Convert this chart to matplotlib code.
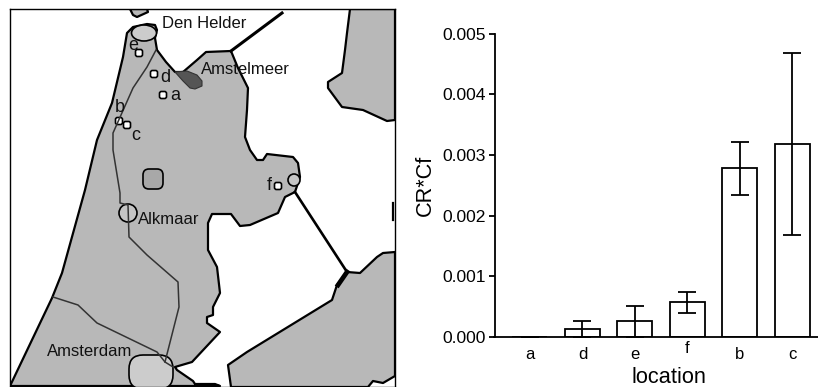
import matplotlib
matplotlib.use('Agg')
import matplotlib.pyplot as plt
from matplotlib.patches import Circle, Ellipse, FancyBboxPatch, Polygon

plt.rcParams['font.family'] = ['Liberation Sans', 'DejaVu Sans']

# bar chart values
locations = ['a', 'd', 'e', 'f', 'b', 'c']
cr_cf = [0.0, 0.00013, 0.000258, 0.00057, 0.00278, 0.00318]
err_low = [0.0, 0.00013, 0.000258, 0.000175, 0.00044, 0.0015]
err_high = [0.0, 0.00013, 0.000258, 0.000165, 0.00044, 0.0015]
y_ticks = [0.0, 0.001, 0.002, 0.003, 0.004, 0.005]

# map outlines, traced in picture pixels
mainland = [(127, 33), (133, 27), (147, 24), (155, 25), (157, 30), (155, 38), (157, 50),
            (166, 62), (175, 72), (183, 72), (197, 60), (206, 52), (231, 51), (238, 68),
            (248, 88), (247, 110), (245, 137), (250, 150), (257, 160), (263, 160),
            (267, 154), (293, 157), (298, 163), (300, 177), (295, 192), (285, 197),
            (278, 213), (250, 225), (240, 226), (231, 214), (212, 214), (208, 223),
            (208, 250), (217, 267), (220, 293), (213, 307), (213, 315), (207, 317),
            (207, 323), (220, 332), (192, 362), (175, 367), (177, 370), (193, 381),
            (195, 384), (215, 384), (220, 386), (10, 386), (52, 298), (62, 273),
            (85, 190), (97, 140), (112, 103), (123, 57)]
east_land = [(231, 387), (228, 365), (247, 352), (332, 300), (337, 285), (347, 272),
             (360, 273), (377, 257), (383, 253), (395, 252), (395, 376), (383, 383),
             (373, 381), (368, 387)]
north_east = [(350, 9), (347, 33), (345, 50), (342, 73), (328, 82), (328, 88), (342, 107),
              (363, 110), (387, 121), (395, 120), (395, 9)]
island = [(130, 9), (133, 15), (137, 17), (148, 12), (147, 9)]
amstelmeer = [(175, 72), (187, 71), (197, 75), (202, 81), (202, 86), (195, 89), (190, 88), (183, 81)]
road_north = [(156, 50), (147, 67), (133, 88), (113, 133), (113, 150), (120, 193),
              (120, 203), (128, 205), (129, 237), (147, 255), (178, 282), (179, 307),
              (165, 362)]
road_west = [(53, 297), (78, 305), (97, 323), (157, 352), (165, 362), (173, 367)]
dike_north = [(231, 51), (282, 13)]
dike_east = [(295, 192), (347, 272)]
dike_thick = [(347, 272), (338, 285)]
east_dash = [(393.3, 203), (393.3, 220)]
sites = [(139, 53), (154, 74), (163, 95), (119, 121), (127, 125), (278, 186)]
map_names = [('Den Helder', 162, 23), ('Amstelmeer', 201, 70), ('Alkmaar', 138, 220),
             ('Amsterdam', 47, 352)]
site_names = [('e', 128, 45), ('d', 160, 77), ('a', 170, 95), ('b', 115, 108), ('c', 131, 135),
              ('f', 267, 186)]

fig = plt.figure(figsize=(8.18, 3.87), dpi=100)

# map
ax1 = fig.add_axes([9.5 / 818, 1 - 386.5 / 387, 385.5 / 818, 377.5 / 387])
ax1.set_xlim(9.5, 395)
ax1.set_ylim(386.5, 9)
ax1.set_xticks([])
ax1.set_yticks([])
for spine in ax1.spines.values():
    spine.set_linewidth(1.0)

for shape in [mainland, east_land, north_east, island]:
    ax1.add_patch(Polygon(shape, closed=True, facecolor='#b8b8b8', edgecolor='black',
                          linewidth=1.6, joinstyle='round'))
ax1.add_patch(Polygon(amstelmeer, closed=True, facecolor='#555555', edgecolor='#333333', linewidth=0.8))

ax1.add_patch(Ellipse((144, 33), 25, 16, facecolor='#cccccc', edgecolor='black', linewidth=1.2))
ax1.add_patch(Ellipse((128, 213), 18, 18, facecolor='#c4c4c4', edgecolor='black', linewidth=1.2))
ax1.add_patch(FancyBboxPatch((140, 366), 22, 12, boxstyle='round,pad=11,rounding_size=14',
                             facecolor='#cccccc', edgecolor='black', linewidth=1.2))
ax1.add_patch(FancyBboxPatch((147, 173), 12, 12, boxstyle='round,pad=4,rounding_size=6',
                             facecolor='#a8a8a8', edgecolor='black', linewidth=1.2))
ax1.add_patch(Circle((294, 180), 6, facecolor='#c4c4c4', edgecolor='black', linewidth=1.2))

for road in [road_north, road_west]:
    ax1.plot(*zip(*road), color='#333333', linewidth=1.1)
ax1.plot(*zip(*dike_north), color='black', linewidth=2.2)
ax1.plot(*zip(*dike_east), color='black', linewidth=1.9)
ax1.plot(*zip(*dike_thick), color='black', linewidth=3.4)
ax1.plot(*zip(*east_dash), color='black', linewidth=1.6)

for x, y in sites:
    ax1.add_patch(FancyBboxPatch((x - 2.5, y - 2.5), 5, 5, boxstyle='round,pad=1,rounding_size=2',
                                 facecolor='white', edgecolor='black', linewidth=1.2))
for text, x, y in map_names:
    ax1.text(x, y, text, fontsize=12, ha='left', va='center', color='#111111')
for text, x, y in site_names:
    ax1.text(x, y, text, fontsize=13, ha='left', va='center', color='#111111')

# bars
ax2 = fig.add_axes([494.5 / 818, 1 - 337 / 387, 323.5 / 818, 303.5 / 387])
positions = list(range(len(locations)))
ax2.bar(positions, cr_cf, width=0.667, facecolor='white', edgecolor='black', linewidth=1.3)
ax2.errorbar(positions, cr_cf, yerr=[err_low, err_high], fmt='none', ecolor='black',
             elinewidth=1.3, capsize=6.4, capthick=1.3, clip_on=False)
ax2.set_xlim(-0.676, 5.486)
ax2.set_ylim(0, 0.005)
ax2.set_yticks(y_ticks)
ax2.set_yticklabels(['%.3f' % v for v in y_ticks], fontsize=12.6)
ax2.set_xticks(positions)
ax2.set_xticklabels(locations, fontsize=12)
ax2.tick_params(axis='x', length=0, pad=7)
ax2.tick_params(axis='y', length=4.5, width=1.3, pad=2)
ax2.xaxis.get_major_ticks()[3].set_pad(3)
ax2.spines['top'].set_visible(False)
ax2.spines['right'].set_visible(False)
ax2.spines['left'].set_linewidth(1.3)
ax2.spines['bottom'].set_linewidth(1.3)
ax2.set_xlabel('location', fontsize=15.7)
ax2.set_ylabel('CR*Cf', fontsize=15.7)
ax2.xaxis.set_label_coords(0.539, -0.098)
ax2.yaxis.set_label_coords(-0.18, 0.5)

plt.savefig('out.png', dpi=100)
